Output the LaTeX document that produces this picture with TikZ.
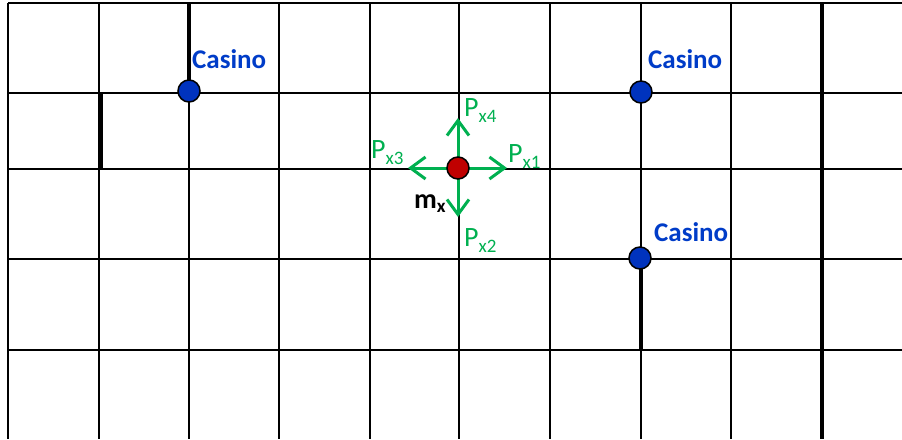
\documentclass[tikz,border=0pt]{standalone}
\usepackage{fontspec}
\setmainfont{Carlito}
\usetikzlibrary{arrows.meta}
\definecolor{casblue}{RGB}{0,60,200}
\definecolor{dotblue}{RGB}{0,51,190}
\definecolor{pgreen}{RGB}{0,176,80}
\definecolor{dotred}{RGB}{192,0,0}
\tikzset{
  gridline/.style={line width=2.3pt, black},
  thickline/.style={line width=3.2pt, black},
  casinolbl/.style={anchor=base west, inner sep=0pt, text=casblue, font=\fontsize{27}{30}\selectfont\bfseries},
  plbl/.style={anchor=base west, inner sep=0pt, text=pgreen, font=\fontsize{28}{30}\selectfont},
  mlbl/.style={anchor=base west, inner sep=0pt, text=black, font=\fontsize{28}{30}\selectfont\bfseries},
  bluedot/.style={circle, draw=black, line width=1.5pt, fill=dotblue, minimum size=22pt, inner sep=0pt},
  reddot/.style={circle, draw=black, line width=1.5pt, fill=dotred, minimum size=22pt, inner sep=0pt},
  parrow/.style={pgreen, line width=3pt, -{Straight Barb[length=15pt,width=22pt]}},
}
\newcommand{\psub}[1]{P\raisebox{-6pt}{\fontsize{19}{19}\selectfont #1}}
\begin{document}
\begin{tikzpicture}[x=1pt,y=-1pt]
\useasboundingbox (0,0) rectangle (902,439);
% grid
\draw[gridline] (8,3) -- (902,3);
\foreach \yy in {93,169,259,350} \draw[gridline] (8,\yy) -- (902,\yy);
\foreach \xx in {8,99,189,279,370,459,550,641,731,822} \draw[gridline] (\xx,3) -- (\xx,439);
\draw[thickline] (101,93) -- (101,169);
\draw[thickline] (822,3) -- (822,439);
\draw[thickline] (641,259) -- (641,350);
\draw[thickline] (189,3) -- (189,93);
% arrows
\coordinate (mc) at (458,168);
\coordinate (t1) at (507,168);
\coordinate (t2) at (458,217);
\coordinate (t3) at (408,168);
\coordinate (t4) at (458,118);
\draw[parrow] (mc) -- (t1);
\draw[parrow] (mc) -- (t2);
\draw[parrow] (mc) -- (t3);
\draw[parrow] (mc) -- (t4);
\node[reddot] (mx) at (mc) {};
% casinos
\node[bluedot] (c1) at (189,91) {};
\node[bluedot] (c2) at (641,92) {};
\node[bluedot] (c3) at (640,258) {};
\node[casinolbl] (l1) at (192,68) {Casino};
\node[casinolbl] (l2) at (648,68) {Casino};
\node[casinolbl] (l3) at (654,241) {Casino};
% labels
\node[plbl] (p4) at (464,116) {\psub{x4}};
\node[plbl] (p1) at (508,162) {\psub{x1}};
\node[plbl] (p3) at (371,158) {\psub{x3}};
\node[plbl] (p2) at (464,246) {\psub{x2}};
\node[mlbl] (ml) at (414,208) {m\raisebox{-4pt}{\fontsize{19}{19}\selectfont\bfseries x}};
\end{tikzpicture}
\end{document}
